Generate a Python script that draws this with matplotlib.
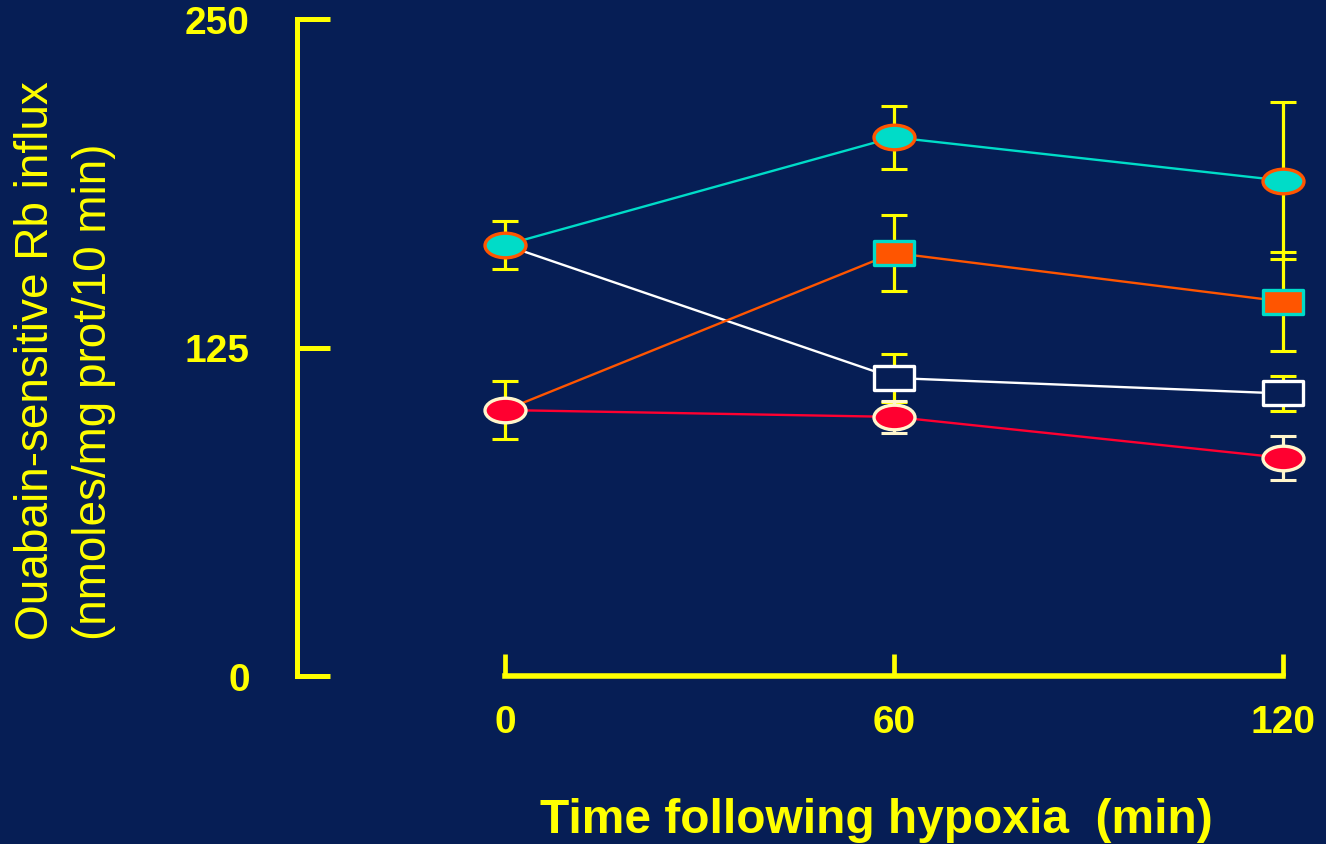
import matplotlib
matplotlib.use('Agg')
from matplotlib import pyplot as plt
from matplotlib.path import Path
import numpy as np

# data
time = [0, 60, 120]

cyan_vals = [164, 205, 188.5]
cyan_err = [9, 12, 30]

orange_vals = [101.2, 161, 142.5]
orange_err = [0, 14.6, 19]

white_vals = [164, 113.4, 107.5]
white_err = [0, 9, 6.5]

red_vals = [101.2, 98.6, 83]
red_err = [11, 6.2, 8.5]

yticks = [0, 125, 250]
xticks = [0, 60, 120]

bg = '#061e55'
yellow = '#ffff00'
cream = '#fff6cc'
cyan = '#00dcc8'
orange = '#ff5500'
red = '#ff0030'
white = '#ffffff'

plt.rcParams['font.family'] = ['Liberation Sans', 'DejaVu Sans']

# marker shapes (wide ellipse and wide box)
circ = Path.unit_circle()
ellipse = Path(circ.vertices * [1, 0.6], circ.codes)
box = Path([(-1, -0.6), (1, -0.6), (1, 0.6), (-1, 0.6), (-1, -0.6)],
           [Path.MOVETO, Path.LINETO, Path.LINETO, Path.LINETO, Path.CLOSEPOLY])

W, H = 1326, 845
fig = plt.figure(figsize=(W / 100, H / 100), dpi=100, facecolor=bg)

# pixel layout: x=0 at 505px, x=120 at 1283px; y=0 at 677px, y=250 at 20px
x0, xs = 505, (1283 - 505) / 120
y0, ys = 677, (677 - 20) / 250
left, right, top, bottom = 280, 1310, 10, 700
ax = fig.add_axes([left / W, (H - bottom) / H, (right - left) / W, (bottom - top) / H])
ax.set_facecolor(bg)
ax.set_xlim((left - x0) / xs, (right - x0) / xs)
ax.set_ylim((y0 - bottom) / ys, (y0 - top) / ys)

series = [
    (cyan_vals, cyan_err, cyan, ellipse, cyan, orange, [yellow] * 3, [0, 1, 2]),
    (white_vals, white_err, white, box, bg, white, [yellow] * 3, [1, 2]),
    (orange_vals, orange_err, orange, box, orange, cyan, [yellow] * 3, [1, 2]),
    (red_vals, red_err, red, ellipse, red, cream, [yellow, cream, cream], [0, 1, 2]),
]

for vals, err, lc, mk, fc, ec, errc, mev in series:
    ax.plot(time, vals, color=lc, lw=1.7, zorder=2, clip_on=False)
    for t, v, e, c in zip(time, vals, err, errc):
        if e > 0:
            ax.errorbar(t, v, yerr=e, fmt='none', ecolor=c, elinewidth=2.3,
                        capsize=9.7, capthick=2.2, zorder=3, clip_on=False)
    ax.plot(time, vals, ls='none', marker=mk, markersize=29.5, markerfacecolor=fc,
            markeredgecolor=ec, markeredgewidth=2.4, markevery=mev, zorder=4, clip_on=False)

for s in ['top', 'right']:
    ax.spines[s].set_visible(False)
ax.spines['left'].set_position(('data', (297 - x0) / xs))
ax.spines['left'].set_bounds(0, 250)
ax.spines['bottom'].set_position(('data', 0))
ax.spines['bottom'].set_bounds(0, 120)
for s in ['left', 'bottom']:
    ax.spines[s].set_color(yellow)
    ax.spines[s].set_capstyle('projecting')
ax.spines['left'].set_linewidth(3.6)
ax.spines['bottom'].set_linewidth(4.0)

ax.set_yticks(yticks)
ax.set_xticks(xticks)
ax.tick_params(axis='y', direction='in', length=24, width=3.6, color=yellow,
               labelcolor=yellow, labelsize=28, pad=34)
ax.tick_params(axis='x', direction='in', length=16, width=3.4, color=yellow,
               labelcolor=yellow, labelsize=28, pad=20)
for lab in ax.get_xticklabels() + ax.get_yticklabels():
    lab.set_fontweight('bold')

fig.text(876 / W, 12 / H, 'Time following hypoxia  (min)', color=yellow, fontsize=34.5,
         fontweight='bold', ha='center', va='baseline')
fig.text(65 / W, (H - 640) / H, 'Ouabain-sensitive Rb influx\n(nmoles/mg prot/10 min)',
         color=yellow, fontsize=33, rotation=90, ha='center', va='bottom',
         multialignment='left', linespacing=1.4)

fig.savefig('out.png', dpi=100, facecolor=bg)
